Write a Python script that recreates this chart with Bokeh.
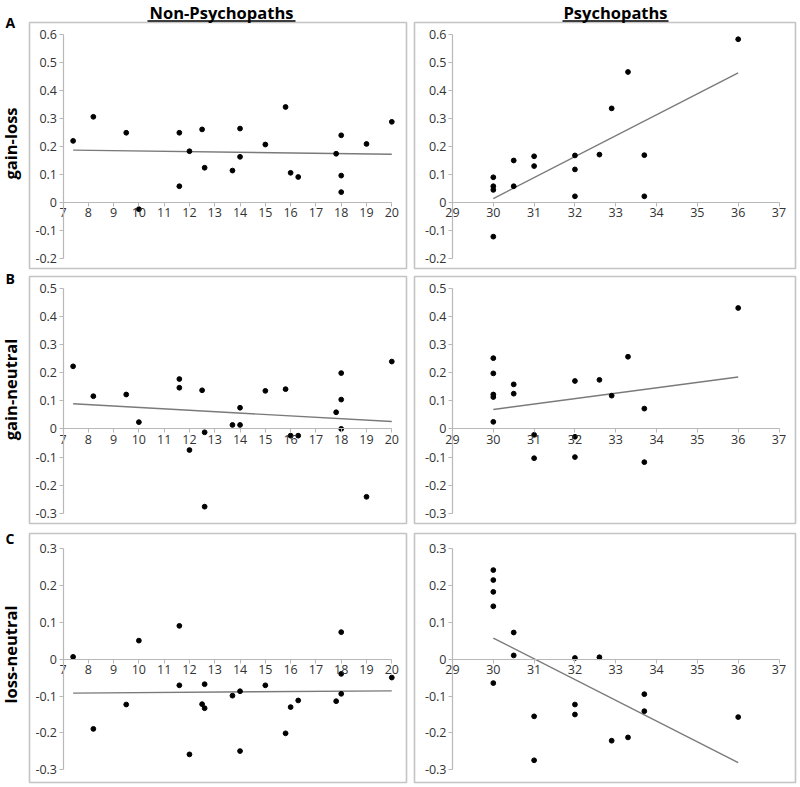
from bokeh.plotting import figure
from bokeh.models import Range1d, FixedTicker, Label
from bokeh.layouts import column, row
from bokeh.embed import file_html
from bokeh.resources import INLINE

# ---------------- data ----------------
col_titles = ["Non-Psychopaths", "Psychopaths"]
row_titles = ["gain-loss", "gain-neutral", "loss-neutral"]
row_letters = ["A", "B", "C"]

nonpsy_xticks = [7, 8, 9, 10, 11, 12, 13, 14, 15, 16, 17, 18, 19, 20]
psy_xticks = [29, 30, 31, 32, 33, 34, 35, 36, 37]
yticks_gain_loss = [-0.2, -0.1, 0, 0.1, 0.2, 0.3, 0.4, 0.5, 0.6]
yticks_gain_neutral = [-0.3, -0.2, -0.1, 0, 0.1, 0.2, 0.3, 0.4, 0.5]
yticks_loss_neutral = [-0.3, -0.2, -0.1, 0, 0.1, 0.2, 0.3]

# Non-psychopaths
np_gl_x = [7.4, 8.2, 9.5, 10, 11.6, 11.6, 12, 12.5, 12.6, 13.7, 14, 14, 15, 15.8, 16, 16.3, 17.8, 18, 18, 18, 19, 20]
np_gl_y = [0.219, 0.305, 0.248, -0.025, 0.248, 0.057, 0.182, 0.260, 0.123, 0.113, 0.263, 0.162, 0.206, 0.340,
           0.105, 0.090, 0.173, 0.239, 0.095, 0.036, 0.208, 0.287]
np_gl_trend = [0.186, 0.171]

np_gn_x = [7.4, 8.2, 9.5, 10, 11.6, 11.6, 12, 12.5, 12.6, 12.6, 13.7, 14, 14, 15, 15.8, 16, 16.3, 17.8, 18, 18, 18, 19, 20]
np_gn_y = [0.222, 0.116, 0.122, 0.024, 0.177, 0.146, -0.075, 0.137, -0.012, -0.276, 0.014, 0.014, 0.075, 0.135,
           0.141, -0.024, -0.024, 0.059, 0.198, 0.104, 0.0, -0.241, 0.239]
np_gn_trend = [0.089, 0.026]

np_ln_x = [7.4, 8.2, 9.5, 10, 11.6, 11.6, 12, 12.5, 12.6, 12.6, 13.7, 14, 14, 15, 15.8, 16, 16.3, 17.8, 18, 18, 18, 20]
np_ln_y = [0.006, -0.189, -0.123, 0.050, 0.090, -0.071, -0.258, -0.122, -0.068, -0.133, -0.099, -0.087, -0.249,
           -0.071, -0.201, -0.130, -0.112, -0.114, 0.073, -0.040, -0.094, -0.050]
np_ln_trend = [-0.092, -0.086]

# Psychopaths
ps_gl_x = [30, 30, 30, 30, 30.5, 30.5, 31, 31, 32, 32, 32, 32.6, 32.9, 33.3, 33.7, 33.7, 36]
ps_gl_y = [0.089, 0.057, 0.044, -0.123, 0.149, 0.057, 0.164, 0.129, 0.167, 0.117, 0.021, 0.170, 0.335, 0.465,
           0.168, 0.021, 0.582]
ps_gl_trend = [0.013, 0.462]

ps_gn_x = [30, 30, 30, 30, 30, 30.5, 30.5, 31, 31, 32, 32, 32, 32.6, 32.9, 33.3, 33.7, 33.7, 36]
ps_gn_y = [0.251, 0.197, 0.122, 0.113, 0.025, 0.158, 0.125, -0.021, -0.104, 0.170, -0.028, -0.100, 0.174, 0.118,
           0.256, 0.072, -0.118, 0.429]
ps_gn_trend = [0.069, 0.184]

ps_ln_x = [30, 30, 30, 30, 30, 30.5, 30.5, 31, 31, 32, 32, 32, 32.6, 32.9, 33.3, 33.7, 33.7, 36]
ps_ln_y = [0.241, 0.214, 0.182, 0.143, -0.065, 0.072, 0.010, -0.155, -0.274, 0.003, -0.123, -0.150, 0.005, -0.221,
           -0.212, -0.095, -0.141, -0.157]
ps_ln_trend = [0.057, -0.280]

# ---------------- layout geometry (page pixels) ----------------
FONT = "Open Sans"
BORDER = "#c4c4c4"
AXIS = "#b8b8b8"
TICKTXT = "#333333"

cols = [
    dict(c_left=0, c_right=410, b_left=29, b_right=406, ticks=nonpsy_xticks, a=(7, 62.5), b=(20, 391.3),
         title_cx=221, title_hw=74),
    dict(c_left=410, c_right=800, b_left=414, b_right=795, ticks=psy_xticks, a=(29, 452.0), b=(37, 778.5),
         title_cx=615, title_hw=53),
]
rows = [
    dict(c_top=0, c_bottom=270, b_top=22, b_bottom=268, yticks=yticks_gain_loss,
         a=(0.6, 33.7), b=(0.0, 201.7), letter_base=22, title_c=143),
    dict(c_top=270, c_bottom=528, b_top=276, b_bottom=523, yticks=yticks_gain_neutral,
         a=(0.5, 287.5), b=(0.0, 428.4), letter_base=278, title_c=389),
    dict(c_top=528, c_bottom=786, b_top=533, b_bottom=782, yticks=yticks_loss_neutral,
         a=(0.3, 547.8), b=(0.0, 658.6), letter_base=538, title_c=654),
]

panel_data = [
    [(np_gl_x, np_gl_y, np_gl_trend), (ps_gl_x, ps_gl_y, ps_gl_trend)],
    [(np_gn_x, np_gn_y, np_gn_trend), (ps_gn_x, ps_gn_y, ps_gn_trend)],
    [(np_ln_x, np_ln_y, np_ln_trend), (ps_ln_x, ps_ln_y, ps_ln_trend)],
]


def px2v(a, b, px):
    (va, pa), (vb, pb) = a, b
    return va + (px - pa) * (vb - va) / (pb - pa)


def fmt(t):
    return "0" if t == 0 else f"{t:.1f}"


figs = []
for ri, r in enumerate(rows):
    line = []
    for ci, c in enumerate(cols):
        xs, ys, trend = panel_data[ri][ci]
        X = lambda px, c=c: px2v(c["a"], c["b"], px)
        Y = lambda py, r=r: px2v(r["a"], r["b"], py)
        p = figure(width=c["c_right"] - c["c_left"], height=r["c_bottom"] - r["c_top"],
                   x_range=Range1d(X(c["c_left"]), X(c["c_right"])),
                   y_range=Range1d(Y(r["c_bottom"]), Y(r["c_top"])),
                   output_backend="svg", toolbar_location=None, title=None,
                   min_border_left=0, min_border_right=0, min_border_top=0, min_border_bottom=0)
        p.xgrid.visible = False
        p.ygrid.visible = False
        p.outline_line_color = None
        p.background_fill_color = "white"
        p.border_fill_color = "white"

        # panel frame
        p.quad(left=[X(c["b_left"])], right=[X(c["b_right"])], top=[Y(r["b_top"])], bottom=[Y(r["b_bottom"])],
               fill_color=None, line_color=BORDER, line_width=1.6)

        xt = c["ticks"]
        yt = r["yticks"]
        xa = p.xaxis[0]
        ya = p.yaxis[0]
        xa.fixed_location = 0
        ya.fixed_location = xt[0]
        xa.ticker = FixedTicker(ticks=xt)
        ya.ticker = FixedTicker(ticks=yt)
        xa.bounds = (xt[0], xt[-1])
        ya.bounds = (yt[0], yt[-1])
        ya.major_label_overrides = {t: fmt(t) for t in yt}
        for ax in (xa, ya):
            ax.axis_line_color = AXIS
            ax.axis_line_width = 1.2
            ax.major_tick_line_color = AXIS
            ax.major_tick_in = 0
            ax.major_tick_out = 4
            ax.minor_tick_line_color = None
            ax.major_label_text_font = FONT
            ax.major_label_text_font_size = "12.5px"
            ax.major_label_text_color = TICKTXT
            ax.major_label_standoff = 2

        p.line([min(xs), max(xs)], trend, line_color="#7a7a7a", line_width=1.4)
        p.scatter(xs, ys, size=4.8, fill_color="black", line_color="black")

        if ri == 0:
            cx = c["title_cx"]
            hw = c["title_hw"]
            p.add_layout(Label(x=X(cx), y=Y(11.5), text=col_titles[ci], text_font=FONT,
                               text_font_style="bold", text_font_size="16.5px", text_align="center",
                               text_baseline="alphabetic", text_color="black"))
            p.segment(x0=[X(cx - hw)], x1=[X(cx + hw)], y0=[Y(20.5)], y1=[Y(20.5)],
                      line_color="black", line_width=1.6)
        if ci == 0:
            p.add_layout(Label(x=X(5), y=Y(r["letter_base"]), text=row_letters[ri], text_font=FONT,
                               text_font_style="bold", text_font_size="14px", text_align="left",
                               text_baseline="alphabetic", text_color="black"))
            p.add_layout(Label(x=X(10), y=Y(r["title_c"]), text=row_titles[ri], text_font=FONT,
                               text_font_style="bold", text_font_size="16.5px", text_align="center",
                               text_baseline="middle", angle=1.5707963, text_color="black"))
        line.append(p)
    figs.append(row(*line))

layout = column(*figs)
open("out.html", "w").write(file_html(layout, INLINE))
